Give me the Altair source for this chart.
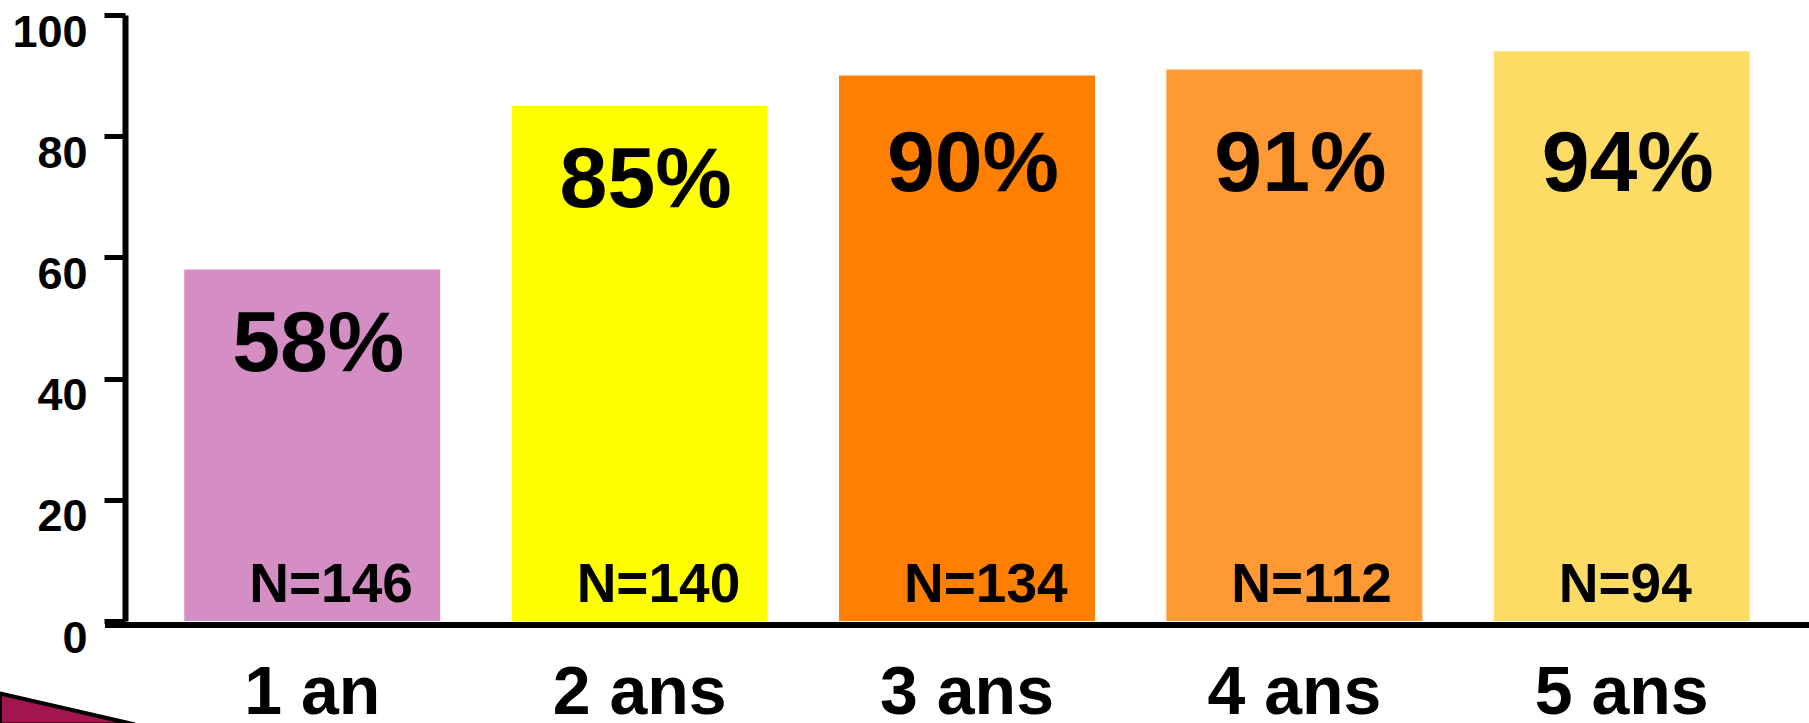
import altair as alt
import pandas as pd

# Share of patients at each follow-up year, with the cohort size per year
categories = ["1 an", "2 ans", "3 ans", "4 ans", "5 ans"]
percent = [58, 85, 90, 91, 94]
n_counts = [146, 140, 134, 112, 94]
bar_colors = ["#D48EC4", "#FFFF00", "#FF8000", "#FF9933", "#FDDC66"]

df = pd.DataFrame({"annee": categories, "pct": percent, "n": n_counts})

FONT = "Liberation Sans"
W, H = 1684, 606

x_enc = alt.X(
    "annee:N",
    sort=categories,
    scale=alt.Scale(paddingInner=0.218, paddingOuter=0.181),
    axis=alt.Axis(
        title=None, domain=False, ticks=False, tickSize=0, labelAngle=0,
        labelFont=FONT, labelFontSize=68, labelFontWeight="bold",
        labelColor="black", labelBaseline="alphabetic", labelPadding=92,
    ),
)

base = alt.Chart(df)

bars = base.mark_bar(stroke=None).encode(
    x=x_enc,
    y=alt.Y(
        "pct:Q",
        scale=alt.Scale(domain=[0, 100], nice=False),
        axis=alt.Axis(
            title=None, values=[0, 20, 40, 60, 80, 100], grid=False,
            domainColor="black", domainWidth=6,
            tickColor="black", tickWidth=5, tickSize=21,
            labelFont=FONT, labelFontSize=45, labelFontWeight="bold",
            labelColor="black", labelPadding=17, labelOffset=17,
        ),
    ),
    color=alt.Color("annee:N", sort=categories,
                    scale=alt.Scale(domain=categories, range=bar_colors),
                    legend=None),
)

# Percentage labels: just under the bar top, capped at a common level
pct_text = base.transform_calculate(
    label="datum.pct + '%'",
    ypos="min(datum.pct, 87.6)",
).mark_text(
    font=FONT, fontSize=86, fontWeight="bold", color="black",
    align="center", baseline="alphabetic", dx=6, dy=101,
).encode(
    x=alt.X("annee:N", sort=categories),
    y=alt.Y("ypos:Q"),
    text="label:N",
)

# Cohort size written at the foot of each bar
n_text = base.transform_calculate(
    label="'N=' + datum.n",
    base0="0",
).mark_text(
    font=FONT, fontSize=55, fontWeight="bold", color="black",
    align="left", baseline="alphabetic", dx=-63, dy=-19,
).encode(
    x=alt.X("annee:N", sort=categories),
    y=alt.Y("base0:Q"),
    text="label:N",
)

# Horizontal baseline running to the right edge
x_line = alt.Chart(df).mark_rule(color="black", strokeWidth=6).encode(
    x=alt.value(-20), x2=alt.value(W), y=alt.value(H + 4)
)

# Slide bullet ornament in the lower-left corner
ornament = alt.Chart(pd.DataFrame({"k": [0]})).mark_point(
    shape="M -1 -0.2 L 1 0.26 L -1 0.26 Z",
    filled=True, fill="#A3154F", stroke="black", strokeWidth=4, opacity=1,
    size=18225,
).encode(x=alt.value(-57.5), y=alt.value(692))

chart = alt.layer(bars, pct_text, n_text, x_line, ornament).properties(
    width=W, height=H,
    autosize=alt.AutoSizeParams(type="none"),
    padding={"left": 125, "top": 15, "right": 0, "bottom": 102},
    background="white",
).configure_view(stroke=None)

chart.save("out.html", embed_options={"renderer": "svg", "actions": False})
